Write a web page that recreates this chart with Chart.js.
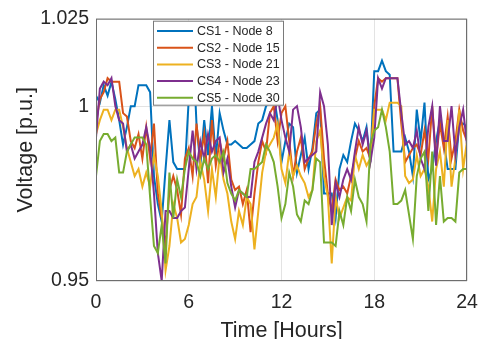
<!DOCTYPE html>
<html>
<head>
<meta charset="utf-8">
<script src="https://cdn.jsdelivr.net/npm/chart.js@4.4.0/dist/chart.umd.min.js"></script>
<style>
    html, body { margin: 0; padding: 0; background: #fff; }
</style>
</head>
<body>
<canvas id="voltChart" width="478" height="339"></canvas>
<script>
// ── Data (15-min steps, 0..24 h) ──
var hours = Array.from({ length: 97 }, function(_, i) { return i / 4; });
var yTicks = [0.95, 1, 1.025];
var xTicks = [0, 6, 12, 18, 24];
var seriesNames = ['CS1 - Node 8', 'CS2 - Node 15', 'CS3 - Node 21', 'CS4 - Node 23', 'CS5 - Node 30'];
var seriesColors = ['#0072BD', '#D95319', '#EDB120', '#7E2F8E', '#77AC30'];

var cs1 = [1.003,1.001,1.006,1.003, 1.007,1.002,0.996,0.989, 0.994,1.000,1.000,1.006, 1.006,1.006,1.004,0.980,
           0.972,0.967,0.982,0.996, 0.984,0.982,0.982,0.982, 1.002,1.020,0.995,0.983, 0.996,0.986,1.000,0.985,
           0.998,0.993,0.989,0.989, 0.990,0.989,0.988,0.988, 0.989,0.990,0.995,0.996, 1.000,1.001,1.003,0.996,
           0.984,0.990,0.995,0.994, 0.981,0.986,0.991,0.982, 0.988,0.998,0.999,0.975, 0.975,0.975,0.968,0.982,
           0.986,0.984,0.990,0.995, 0.993,0.990,0.994,0.984, 1.010,1.010,1.013,1.010, 1.009,0.987,0.987,0.987,
           0.991,0.987,0.980,0.999, 0.990,1.001,0.979,0.982, 0.990,0.996,0.990,0.982, 0.982,0.982,0.995,0.995,
           0.994];
var cs2 = [0.995,1.002,1.004,1.008, 1.007,1.007,1.007,0.998, 0.997,0.990,0.988,0.992, 0.985,0.994,0.985,0.995,
           0.975,0.968,0.960,0.976, 0.980,0.976,0.969,0.985, 0.988,0.980,0.995,0.985, 0.992,0.978,0.996,0.983,
           0.990,0.985,0.990,0.979, 0.976,0.977,0.972,0.976, 0.964,0.975,0.984,0.990, 0.987,0.998,1.000,0.990,
           0.998,1.000,0.990,0.980, 0.987,0.991,0.982,0.985, 0.987,0.995,1.000,0.985, 0.975,0.970,0.979,0.976,
           0.977,0.975,0.980,0.985, 0.990,0.987,0.988,0.985, 1.000,1.008,1.007,1.008, 1.008,1.008,1.008,0.995,
           0.984,0.986,0.988,0.989, 0.986,0.993,0.985,1.000, 0.985,0.995,0.988,0.997, 0.985,0.990,0.999,0.993,
           0.990];
var cs3 = [0.992,0.996,0.999,0.999, 0.996,0.999,0.999,0.994, 0.988,0.984,0.980,0.982, 0.977,0.981,0.977,0.986,
           0.980,0.970,0.953,0.960, 0.972,0.968,0.961,0.962, 0.966,0.972,0.974,0.984, 0.979,0.970,0.982,0.974,
           0.986,0.979,0.975,0.967, 0.962,0.970,0.966,0.974, 0.972,0.959,0.970,0.981, 0.987,0.989,0.991,0.995,
           0.982,0.978,0.987,0.980, 0.983,0.980,0.978,0.974, 0.976,0.990,0.993,0.980, 0.974,0.955,0.974,0.968,
           0.971,0.974,0.973,0.986, 0.982,0.986,0.983,0.985, 0.999,0.999,0.999,0.996, 1.001,1.001,1.001,1.000,
           0.980,0.978,0.979,0.986, 0.980,0.982,0.977,0.967, 0.982,0.987,0.977,0.996, 0.977,0.985,0.999,0.982,
           0.990];
var cs4 = [0.991,1.005,1.007,1.006, 1.008,1.000,0.996,0.995, 0.987,0.989,0.985,0.987, 0.989,0.994,0.988,0.975,
           0.958,0.950,0.970,0.970, 0.968,0.968,0.970,0.971, 0.982,0.993,0.982,0.990, 0.985,0.992,0.987,0.990,
           0.991,0.981,0.985,0.977, 0.971,0.976,0.975,0.974, 0.974,0.984,0.987,0.991, 0.995,0.998,0.996,1.003,
           0.996,0.991,0.987,0.999, 1.000,0.994,0.984,0.985, 0.986,0.987,1.004,1.000, 0.989,0.966,0.978,0.974,
           0.979,0.982,0.979,0.987, 0.994,0.989,0.993,0.984, 0.991,1.008,1.005,1.008, 1.008,1.008,1.008,0.998,
           0.989,0.990,0.988,0.993, 0.985,0.982,0.994,1.000, 0.983,1.000,0.990,0.990, 1.000,0.986,0.994,0.999,
           0.989];
var cs5 = [0.980,0.990,0.992,0.992, 0.990,0.991,0.981,0.981, 0.987,0.989,0.991,0.991, 0.991,0.989,0.974,0.960,
           0.958,0.966,0.955,0.981, 0.968,0.979,0.974,0.982, 0.987,0.985,0.984,0.980, 0.985,0.982,0.985,0.986,
           0.984,0.987,0.978,0.975, 0.973,0.976,0.975,0.974, 0.982,0.982,0.983,0.984, 0.989,0.987,0.984,0.977,
           0.968,0.972,0.981,0.977, 0.969,0.967,0.973,0.972, 0.976,0.985,0.984,0.961, 0.961,0.961,0.960,0.970,
           0.966,0.974,0.970,0.979, 0.974,0.972,0.967,0.989, 0.993,0.994,0.999,0.994, 0.987,0.972,0.972,0.973,
           0.976,0.969,0.962,0.980, 0.985,0.987,0.970,0.987, 0.966,0.980,0.967,0.968, 0.968,0.967,0.981,0.982,
           0.982];

var allSeries = [cs1, cs2, cs3, cs4, cs5];
var fontFamily = '"Liberation Sans", Arial, sans-serif';
var textColor = '#262626';

// ── Axes box + legend drawn inside the plot, MATLAB style ──
var framePlugin = {
    id: 'frameLegend',
    afterDatasetsDraw: function(chart) {
        var ctx = chart.ctx, a = chart.chartArea;
        ctx.save();
        ctx.strokeStyle = '#6e6e6e';
        ctx.lineWidth = 1;
        ctx.strokeRect(a.left + 0.5, a.top + 0.5, a.right - a.left - 1, a.bottom - a.top - 1);

        // legend box
        var bx = a.left + 57, by = a.top + 2, bw = 131, bh = 85;
        ctx.fillStyle = '#fff';
        ctx.fillRect(bx, by, bw, bh);
        ctx.strokeStyle = '#7a7a7a';
        ctx.strokeRect(bx + 0.5, by + 0.5, bw - 1, bh - 1);

        ctx.font = '12.5px ' + fontFamily;
        ctx.textBaseline = 'middle';
        ctx.textAlign = 'left';
        chart.data.datasets.forEach(function(ds, i) {
            var ry = by + 10.3 + i * 16.7;
            ctx.strokeStyle = ds.borderColor;
            ctx.lineWidth = 2;
            ctx.beginPath();
            ctx.moveTo(bx + 4, ry);
            ctx.lineTo(bx + 40, ry);
            ctx.stroke();
            ctx.fillStyle = textColor;
            ctx.fillText(ds.label, bx + 44, ry + 0.5);
        });
        ctx.restore();
    }
};

new Chart(document.getElementById('voltChart').getContext('2d'), {
    type: 'line',
    data: {
        labels: hours,
        datasets: allSeries.map(function(vals, i) {
            return {
                label: seriesNames[i], data: vals,
                borderColor: seriesColors[i], backgroundColor: seriesColors[i],
                borderWidth: 2, pointRadius: 0, tension: 0, fill: false,
                order: allSeries.length - i
            };
        })
    },
    options: {
        responsive: false, animation: false,
        layout: { padding: { top: 15, right: 11, left: 0, bottom: 0 } },
        plugins: { legend: { display: false }, tooltip: { enabled: false } },
        scales: {
            x: {
                type: 'linear', min: 0, max: 24,
                afterBuildTicks: function(s) { s.ticks = xTicks.map(function(v) { return { value: v }; }); },
                afterFit: function(s) { s.height = 58; s.paddingRight = 11; s.paddingLeft = 0; },
                grid: { color: '#e3e3e3', drawTicks: false },
                border: { display: false },
                ticks: { padding: 10, color: textColor, font: { family: fontFamily, size: 19.5 }, maxRotation: 0 },
                title: { display: true, text: 'Time [Hours]', color: textColor, padding: 0,
                         font: { family: fontFamily, size: 21.5, lineHeight: 0.75 } }
            },
            y: {
                min: 0.95, max: 1.025,
                afterBuildTicks: function(s) { s.ticks = yTicks.map(function(v) { return { value: v }; }); },
                afterFit: function(s) { s.width = 96; },
                grid: { color: '#e3e3e3', drawTicks: false },
                border: { display: false },
                ticks: { padding: 7, color: textColor, font: { family: fontFamily, size: 19.5 },
                         callback: function(v) { return String(v); } },
                title: { display: true, text: 'Voltage [p.u.]', color: textColor, padding: { top: 15, bottom: 0 },
                         font: { family: fontFamily, size: 21.5, lineHeight: 1 } }
            }
        }
    },
    plugins: [framePlugin]
});
</script>
</body>
</html>
